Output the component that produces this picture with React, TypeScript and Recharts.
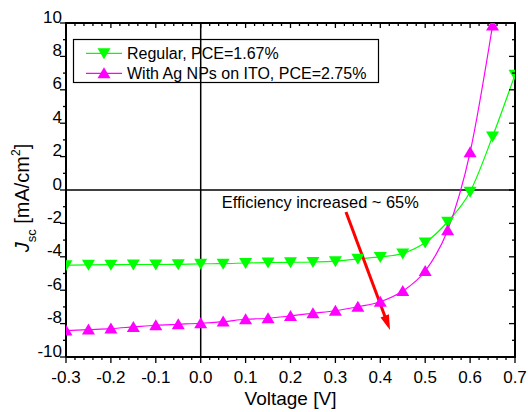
import React from 'react';
import { ComposedChart, Line, XAxis, YAxis, ReferenceLine, ReferenceDot } from 'recharts';

const voltage = [-0.3, -0.25, -0.2, -0.15, -0.1, -0.05, 0, 0.05, 0.1, 0.15, 0.2, 0.25, 0.3, 0.35, 0.4, 0.45, 0.5, 0.55, 0.6, 0.65, 0.7];
const regular = [-4.51, -4.48, -4.47, -4.46, -4.46, -4.45, -4.42, -4.41, -4.37, -4.34, -4.33, -4.31, -4.26, -4.12, -4.01, -3.8, -3.15, -1.9, -0.1, 3.2, 6.9];
const withAg = [-8.42, -8.36, -8.3, -8.2, -8.1, -8.04, -7.98, -7.88, -7.74, -7.68, -7.54, -7.38, -7.23, -6.99, -6.69, -6.05, -4.85, -2.41, 2.26, 9.85, null];

const seriesNames = ['Regular, PCE=1.67%', 'With Ag NPs on ITO, PCE=2.75%'];
const seriesColors = ['#00ff00', '#ff00ff'];
const annotationText = 'Efficiency increased ~ 65%';
const xLabel = 'Voltage [V]';

const xDomain = [-0.3, 0.7];
const yDomain = [-10, 10];

// annotation anchor points (data units)
const annotationAt = { x: 0.047, y: -1.08 };
const arrowFrom = { x: 0.3236, y: -1.32 };
const arrowTo = { x: 0.4216, y: -8.38 };

const xTicks: number[] = [];
for (let i = -15; i <= 35; i++) xTicks.push(Math.round(i * 2) / 100);
const yTicks: number[] = [];
for (let i = -10; i <= 10; i++) yTicks.push(i);

const data = voltage.map((v, i) => ({ v, regular: regular[i], withAg: withAg[i] }));

// layout
const CHART_W = 528;
const CHART_H = 412;
const MARGIN = { top: 23, right: 13, bottom: 0, left: 0 };
const PLOT_TOP = MARGIN.top;
const PLOT_RIGHT = CHART_W - MARGIN.right;
const LEGEND_BOX = { x: 73, y: 39, w: 306, h: 44 };

const FONT = '"Liberation Sans", Arial, Helvetica, sans-serif';
const isMajorX = (v: number) => Math.abs(v * 10 - Math.round(v * 10)) < 1e-6;
const isMajorY = (v: number) => Math.abs(v) % 2 === 0;

const triDown = (cx: number, cy: number) => `${cx - 6.5},${cy - 5} ${cx + 6.5},${cy - 5} ${cx},${cy + 6}`;
const triUp = (cx: number, cy: number) => `${cx - 6.5},${cy + 5} ${cx + 6.5},${cy + 5} ${cx},${cy - 6}`;

// bottom ticks (outward) + mirrored top ticks (inward)
const BottomTick = (p: any) => {
  const { x, y, payload } = p;
  const major = isMajorX(payload.value);
  return (
    <g>
      <line x1={x} x2={x} y1={y} y2={y + (major ? 6 : 3)} stroke="#000" strokeWidth={1.3} />
      <line x1={x} x2={x} y1={PLOT_TOP} y2={PLOT_TOP + (major ? 5 : 3)} stroke="#000" strokeWidth={1.3} />
      {major && (
        <text x={x} y={y + 26} textAnchor="middle" fontSize={17} fontFamily={FONT} fill="#000">
          {Number(payload.value).toFixed(1)}
        </text>
      )}
    </g>
  );
};

// left ticks (outward) + mirrored right ticks (inward)
const LeftTick = (p: any) => {
  const { x, y, payload } = p;
  const major = isMajorY(payload.value);
  return (
    <g>
      <line x1={x} x2={x - (major ? 6 : 3)} y1={y} y2={y} stroke="#000" strokeWidth={1.3} />
      <line x1={PLOT_RIGHT} x2={PLOT_RIGHT - (major ? 6 : 3)} y1={y} y2={y} stroke="#000" strokeWidth={1.3} />
      {major && (
        <text x={x - 4} y={y - 0.5} textAnchor="end" fontSize={17} fontFamily={FONT} fill="#000">
          {String(payload.value)}
        </text>
      )}
    </g>
  );
};

const DownDot = (p: any) => {
  const { cx, cy } = p;
  if (cx == null || cy == null || isNaN(cx) || isNaN(cy)) return null;
  return <polygon points={triDown(cx, cy)} fill={seriesColors[0]} />;
};
const UpDot = (p: any) => {
  const { cx, cy } = p;
  if (cx == null || cy == null || isNaN(cx) || isNaN(cy)) return null;
  return <polygon points={triUp(cx, cy)} fill={seriesColors[1]} />;
};

const Arrow = (p: any) => {
  const { x1, y1, x2, y2 } = p;
  const dx = x2 - x1;
  const dy = y2 - y1;
  const len = Math.hypot(dx, dy) || 1;
  const ux = dx / len;
  const uy = dy / len;
  const hl = 15;
  const hw = 4.5;
  const bx = x2 - ux * hl;
  const by = y2 - uy * hl;
  const px = -uy;
  const py = ux;
  return (
    <g>
      <line x1={x1} y1={y1} x2={bx + ux * 2} y2={by + uy * 2} stroke="#ff0000" strokeWidth={3} />
      <polygon points={`${x2},${y2} ${bx + px * hw},${by + py * hw} ${bx - px * hw},${by - py * hw}`} fill="#ff0000" />
    </g>
  );
};

const AnnotationText = (p: any) => {
  const { cx, cy } = p;
  if (cx == null || cy == null) return null;
  return (
    <text x={cx} y={cy} fontSize={16.4} fontFamily={FONT} fill="#000">
      {annotationText}
    </text>
  );
};

// legend drawn inside the SVG
const LegendSvg = () => (
  <g transform={`translate(${LEGEND_BOX.x},${LEGEND_BOX.y})`}>
    <rect x={0.5} y={0.5} width={LEGEND_BOX.w - 1} height={LEGEND_BOX.h - 1} fill="none" stroke="#000" strokeWidth={1.2} />
    {seriesNames.map((name, i) => {
      const cy = 14.3 + i * 20;
      return (
        <g key={name}>
          <line x1={13} x2={49} y1={cy} y2={cy} stroke={seriesColors[i]} strokeWidth={1.2} />
          <polygon points={i === 0 ? triDown(31, cy) : triUp(31, cy)} fill={seriesColors[i]} />
          <text x={54} y={cy + 6} fontSize={16} fontFamily={FONT} fill="#000">
            {name}
          </text>
        </g>
      );
    })}
  </g>
);

// x-axis title, plus the top and right edges of the frame and the legend
const XLabel = (p: any) => {
  const vb = p.viewBox || { x: 66, y: 357, width: 449, height: 55 };
  const w = vb.width ?? vb.upperWidth ?? 449;
  const right = vb.x + w;
  return (
    <g>
      <line x1={vb.x - 1} x2={right + 1} y1={PLOT_TOP} y2={PLOT_TOP} stroke="#000" strokeWidth={2} />
      <line x1={right} x2={right} y1={PLOT_TOP} y2={vb.y + 1} stroke="#000" strokeWidth={2} />
      <text x={vb.x + w / 2} y={vb.y + 48} textAnchor="middle" fontSize={19} fontFamily={FONT} fill="#000">
        {xLabel}
      </text>
      <LegendSvg />
    </g>
  );
};

const YLabel = (p: any) => {
  const vb = p.viewBox || { x: 0, y: 23, width: 66, height: 334 };
  const h = vb.height ?? 334;
  const cx = 28.5;
  const cy = vb.y + h / 2 + 8;
  return (
    <text x={cx} y={cy} transform={`rotate(-90 ${cx} ${cy})`} textAnchor="middle" fontSize={20} fontFamily={FONT} fill="#000">
      <tspan fontStyle="italic">J</tspan>
      <tspan fontSize={13} dy={7}>sc</tspan>
      <tspan dy={-7}> [mA/cm</tspan>
      <tspan fontSize={12} dy={-9}>2</tspan>
      <tspan dy={9}>]</tspan>
    </text>
  );
};

const axisLine = { stroke: '#000', strokeWidth: 2 };

export default function App() {
  return (
    <div style={{ position: 'absolute', left: 0, top: 0, width: CHART_W, height: CHART_H, background: '#fff' }}>
      <ComposedChart width={CHART_W} height={CHART_H} data={data} margin={MARGIN}>
        <XAxis
          dataKey="v"
          type="number"
          domain={xDomain}
          allowDataOverflow
          ticks={xTicks}
          interval={0}
          tickSize={0}
          tickMargin={0}
          tickLine={false}
          tick={<BottomTick />}
          axisLine={axisLine}
          height={55}
          label={<XLabel />}
        />
        <YAxis
          type="number"
          domain={yDomain}
          allowDataOverflow
          ticks={yTicks}
          interval={0}
          tickSize={0}
          tickMargin={0}
          tickLine={false}
          tick={<LeftTick />}
          axisLine={axisLine}
          width={66}
          label={<YLabel />}
        />
        <ReferenceLine x={0} stroke="#000" strokeWidth={1.5} />
        <ReferenceLine y={0} stroke="#000" strokeWidth={1.5} />
        <ReferenceLine y={yDomain[1]} stroke="#000" strokeWidth={2} ifOverflow="visible" />
        <ReferenceLine x={xDomain[1]} stroke="#000" strokeWidth={2} ifOverflow="visible" />
        <Line
          dataKey="regular"
          name={seriesNames[0]}
          type="monotone"
          stroke={seriesColors[0]}
          strokeWidth={1.2}
          dot={<DownDot />}
          activeDot={false}
          isAnimationActive={false}
        />
        <Line
          dataKey="withAg"
          name={seriesNames[1]}
          type="monotone"
          stroke={seriesColors[1]}
          strokeWidth={1.2}
          dot={<UpDot />}
          activeDot={false}
          isAnimationActive={false}
        />
        <ReferenceLine segment={[arrowFrom, arrowTo]} shape={<Arrow />} ifOverflow="visible" />
        <ReferenceDot x={annotationAt.x} y={annotationAt.y} r={0} shape={<AnnotationText />} ifOverflow="visible" />
      </ComposedChart>
    </div>
  );
}
